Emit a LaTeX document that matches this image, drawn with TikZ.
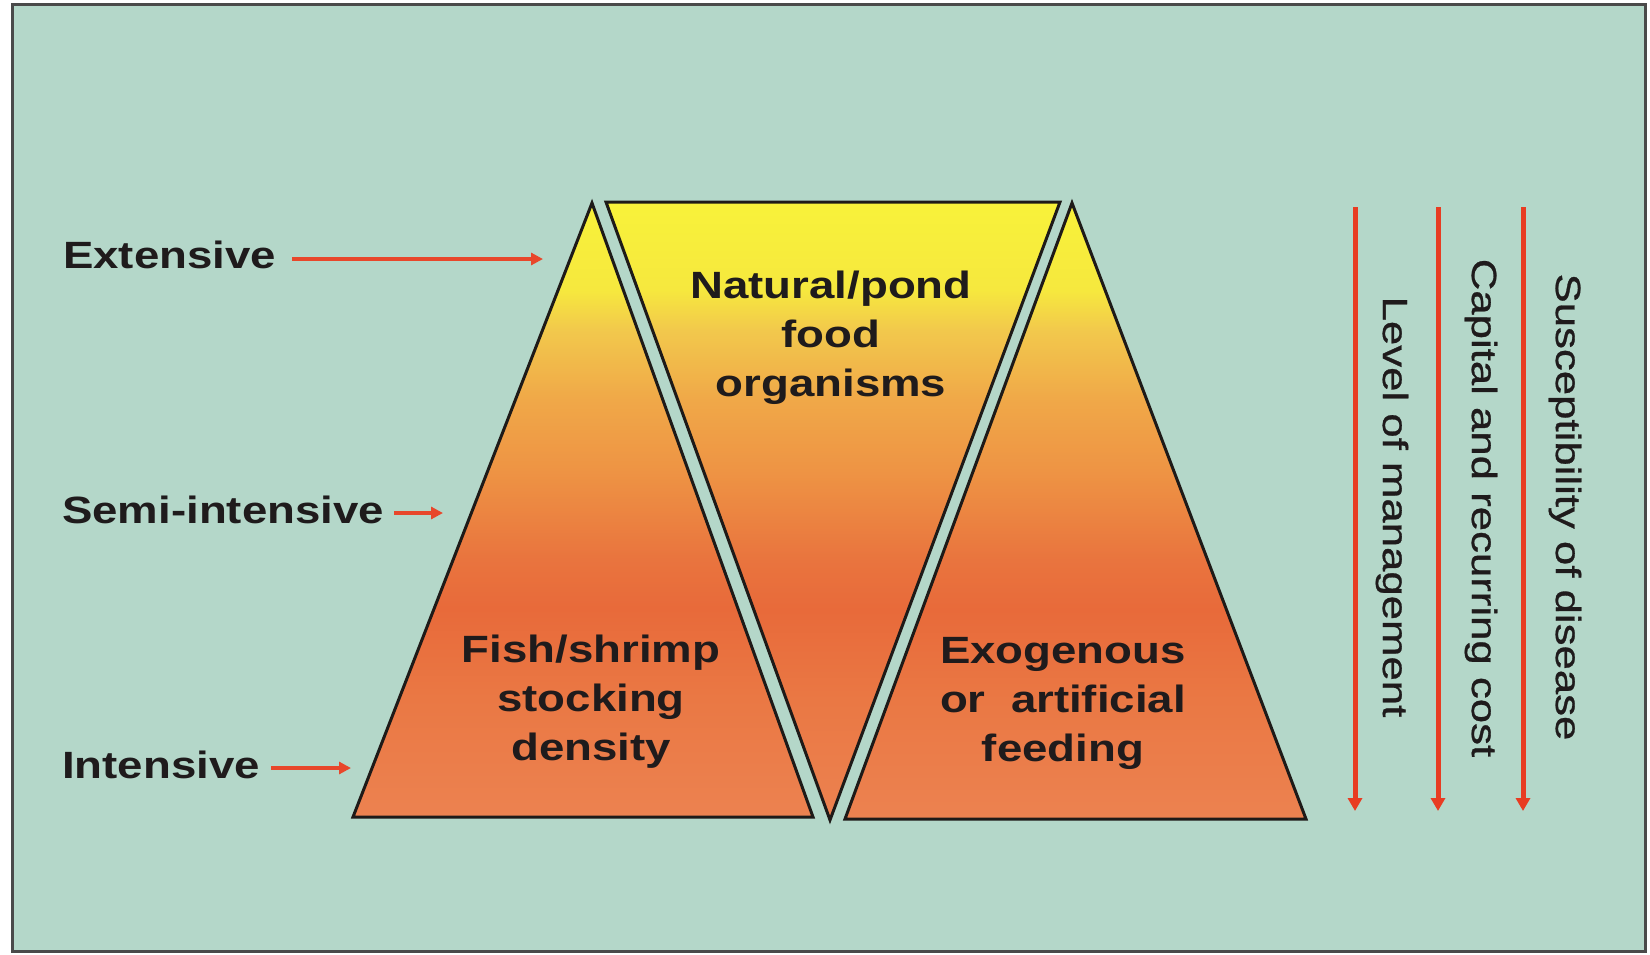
\documentclass[tikz,border=0pt]{standalone}
\usepackage{fontspec}
\setmainfont{Liberation Sans}
\newfontfamily\labfont{Liberation Sans}[FakeStretch=1.2]
\newfontfamily\vfont{Liberation Sans}[FakeStretch=1.25,FakeBold=0.8]
\usetikzlibrary{arrows.meta,calc}
\definecolor{bg}{HTML}{B4D7C9}
\definecolor{frame}{HTML}{4A4A4A}
\definecolor{ink}{HTML}{1F1B1C}
\definecolor{edge}{HTML}{1E1A18}
\definecolor{arr}{HTML}{E8472B}
\definecolor{varr}{HTML}{E83C22}
\definecolor{g1}{HTML}{F8F23A}
\definecolor{g2}{HTML}{F6E83E}
\definecolor{g3}{HTML}{F2C84C}
\definecolor{g4}{HTML}{F0A848}
\definecolor{g5}{HTML}{EE9444}
\definecolor{g6}{HTML}{E9743E}
\definecolor{g7}{HTML}{E86A3A}
\definecolor{g8}{HTML}{EA7844}
\definecolor{g9}{HTML}{EC8250}
\pgfdeclareverticalshading{pondgrad}{100bp}{color(0bp)=(g9); color(25bp)=(g9); color(34.7bp)=(g8); color(42bp)=(g7); color(46bp)=(g6); color(53.3bp)=(g5); color(59bp)=(g4); color(64.6bp)=(g3); color(67.9bp)=(g2); color(75bp)=(g1); color(100bp)=(g1)}
\begin{document}
\begin{tikzpicture}[x=1pt,y=-1pt,
  lab/.style={inner sep=0pt, text=ink, font=\labfont\bfseries\fontsize{38}{49}\selectfont},
  vlab/.style={inner sep=0pt, text=ink, font=\vfont\fontsize{35}{40}\selectfont, rotate=-90},
  shapebox/.style={shade, shading=pondgrad, draw=edge, line width=3pt, line join=miter},
  harr/.style={draw=arr, line width=3.5pt, -{Triangle[length=12pt,width=12pt]}},
  vertarr/.style={draw=varr, line width=5pt, -{Triangle[length=13pt,width=14pt]}}]
\useasboundingbox (0,0) rectangle (1650,954);
\fill[white] (0,0) rectangle (1650,954);
\filldraw[fill=bg, draw=frame, line width=3pt] (12,4) rectangle (1645,951);
% shapes
\path[shapebox] (592,203) -- (813,817) -- (353,817) -- cycle;
\path[shapebox] (606,202) -- (1060,202) -- (830,820) -- cycle;
\path[shapebox] (1072,203) -- (1306,819) -- (845,819) -- cycle;
% texts in shapes
\node[lab, align=center, anchor=north] (nat) at (831,271) {Natural/pond\\food\\organisms};
\node[lab, align=center, anchor=north] (fish) at (591,635) {Fish/shrimp\\stocking\\density};
\node[lab, align=center, anchor=north] (exo) at (1063,637) {Exogenous\\or \ artificial\\feeding};
% left labels
\node[lab, anchor=base west] (ext) at (63,268) {Extensive};
\node[lab, anchor=base west] (semi) at (62,523) {Semi-intensive};
\node[lab, anchor=base west] (int) at (62,778) {Intensive};
\coordinate (extend) at (543,259);
\coordinate (semiend) at (443,513);
\coordinate (intend) at (351,768);
\draw[harr] ($(ext.east|-extend)+(16,0)$) -- (extend);
\draw[harr] ($(semi.east|-semiend)+(10,0)$) -- (semiend);
\draw[harr] ($(int.east|-intend)+(11,0)$) -- (intend);
% right vertical labels
\node[vlab] (lev) at (1392,507) {Level of management};
\node[vlab] (cap) at (1481,508) {Capital and recurring cost};
\node[vlab] (sus) at (1565,507) {Susceptibility of disease};
\coordinate (a1s) at (1355,207); \coordinate (a1e) at (1355,811);
\coordinate (a2s) at (1438,207); \coordinate (a2e) at (1438,811);
\coordinate (a3s) at (1523,207); \coordinate (a3e) at (1523,811);
\draw[vertarr] (a1s) -- (a1e);
\draw[vertarr] (a2s) -- (a2e);
\draw[vertarr] (a3s) -- (a3e);
\end{tikzpicture}
\end{document}
